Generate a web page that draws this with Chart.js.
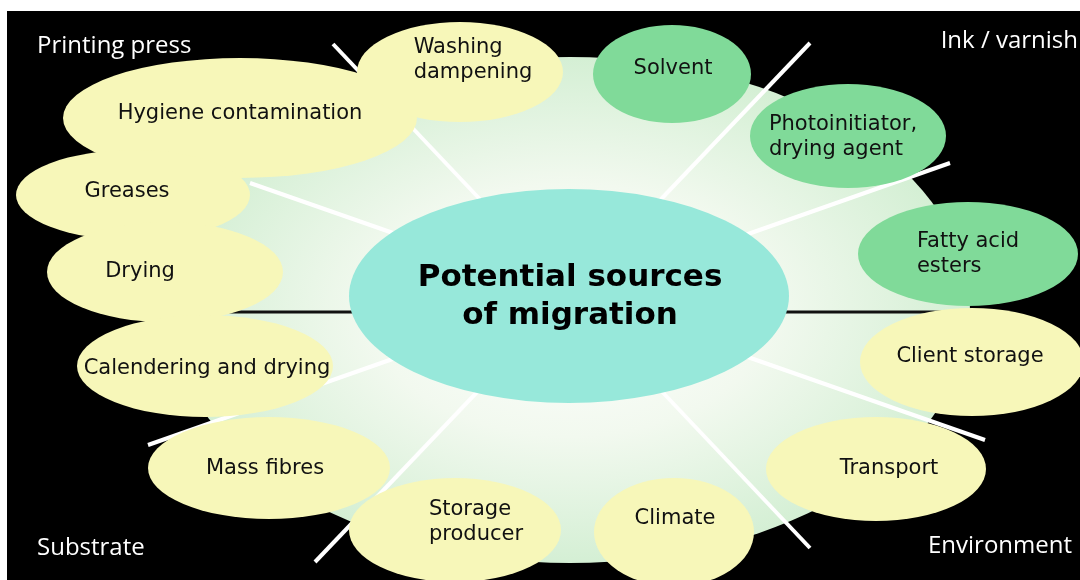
<!DOCTYPE html>
<html>
<head>
<meta charset="utf-8">
<script src="https://cdn.jsdelivr.net/npm/chart.js@4"></script>
<style>
  html, body { margin: 0; padding: 0; background: #fff; }
  #wrap { width: 1080px; height: 580px; }
</style>
</head>
<body>
<div id="wrap"><canvas id="c" width="1080" height="580"></canvas></div>
<script>
// nodes round the hub
const nodeLabels = [
  ['Hygiene contamination'], ['Washing', 'dampening'], ['Solvent'],
  ['Photoinitiator,', 'drying agent'], ['Greases'], ['Drying'],
  ['Fatty acid', 'esters'], ['Calendering and drying'], ['Client storage'],
  ['Mass fibres'], ['Transport'], ['Storage', 'producer'], ['Climate']
];
const nodeGroup = ['press', 'press', 'ink', 'ink', 'press', 'press', 'ink',
                   'substrate', 'env', 'substrate', 'env', 'substrate', 'env'];
const nodeX  = [240, 460, 672, 848, 133, 165, 968, 205, 972, 269, 876, 455, 674];
const nodeY  = [118, 72, 74, 136, 195, 272, 254, 366, 362, 468, 469, 530, 532];
const nodeRx = [177, 103, 79, 98, 117, 118, 110, 128, 112, 121, 110, 106, 80];
const nodeRy = [60, 50, 49, 52, 45, 50, 52, 51, 54, 51, 52, 52, 54];
const textX  = [240, 473, 673, 843, 127, 140, 968, 207, 970, 265, 889, 476, 675];
const textY  = [114, 60, 69, 137, 192, 272, 254, 369, 357, 469, 469, 522, 519];

const hubTitle = ['Potential sources', 'of migration'];
const cornerLabels = ['Printing press', 'Ink / varnish', 'Substrate', 'Environment'];

const colors = {
  press: '#f7f7b9', substrate: '#f7f7b9', env: '#f7f7b9', ink: '#80da99'
};

const diagramPlugin = {
  id: 'diagram',
  beforeDatasetsDraw(chart) {
    const { ctx, scales: { x, y } } = chart;
    const px = v => x.getPixelForValue(v);
    const py = v => y.getPixelForValue(v);
    ctx.save();

    // black panel
    ctx.fillStyle = '#000';
    ctx.fillRect(px(7), py(11), px(1080) - px(7), py(580) - py(11));

    // soft halo behind everything
    const cx = px(570), cy = py(310), rx = 400, ry = 253;
    ctx.save();
    ctx.translate(cx, cy);
    ctx.scale(rx / ry, 1);
    const g = ctx.createRadialGradient(0, 0, 0, 0, 0, ry);
    g.addColorStop(0, '#ffffff');
    g.addColorStop(0.5, '#f2f9ef');
    g.addColorStop(1, '#d4efd4');
    ctx.fillStyle = g;
    ctx.beginPath();
    ctx.arc(0, 0, ry, 0, Math.PI * 2);
    ctx.fill();
    ctx.restore();

    // black horizontal divider
    ctx.strokeStyle = '#111';
    ctx.lineWidth = 3;
    ctx.beginPath();
    ctx.moveTo(px(210), py(312));
    ctx.lineTo(px(962), py(312));
    ctx.stroke();

    // white spokes
    ctx.strokeStyle = '#fff';
    ctx.lineWidth = 4;
    [[333, 44, 810, 548], [810, 43, 315, 562], [950, 163, 148, 445], [250, 183, 985, 440]]
      .forEach(([x1, y1, x2, y2]) => {
        ctx.beginPath();
        ctx.moveTo(px(x1), py(y1));
        ctx.lineTo(px(x2), py(y2));
        ctx.stroke();
      });

    // nodes
    nodeLabels.forEach((lines, i) => {
      ctx.fillStyle = colors[nodeGroup[i]];
      ctx.beginPath();
      ctx.ellipse(px(nodeX[i]), py(nodeY[i]), nodeRx[i], nodeRy[i], 0, 0, Math.PI * 2);
      ctx.fill();
    });

    ctx.font = '21px "DejaVu Sans"';
    ctx.fillStyle = '#111';
    ctx.textBaseline = 'middle';
    nodeLabels.forEach((lines, i) => {
      const w = Math.max(...lines.map(l => ctx.measureText(l).width));
      const left = px(textX[i]) - w / 2;
      const top = py(textY[i]) - (lines.length - 1) * 12.5;
      ctx.textAlign = lines.length > 1 ? 'left' : 'center';
      lines.forEach((l, k) => {
        ctx.fillText(l, lines.length > 1 ? left : px(textX[i]), top + k * 25);
      });
    });

    // hub
    ctx.fillStyle = '#97e8da';
    ctx.beginPath();
    ctx.ellipse(px(569), py(296), 220, 107, 0, 0, Math.PI * 2);
    ctx.fill();
    ctx.fillStyle = '#000';
    ctx.font = 'bold 31px "DejaVu Sans"';
    ctx.textAlign = 'center';
    ctx.fillText(hubTitle[0], px(570), py(278));
    ctx.fillText(hubTitle[1], px(570), py(316));

    // corner labels
    ctx.fillStyle = '#fff';
    ctx.font = '24px "Open Sans"';
    ctx.textAlign = 'left';
    ctx.fillText(cornerLabels[0], px(37), py(46));
    ctx.fillText(cornerLabels[2], px(37), py(548));
    ctx.textAlign = 'right';
    ctx.fillText(cornerLabels[1], px(1078), py(41));
    ctx.fillText(cornerLabels[3], px(1072), py(546));
    ctx.restore();
  }
};

new Chart(document.getElementById('c'), {
  type: 'scatter',
  data: {
    datasets: [{
      data: nodeX.map((v, i) => ({ x: v, y: nodeY[i] })),
      pointRadius: 0
    }]
  },
  options: {
    responsive: false,
    animation: false,
    layout: { padding: 0 },
    plugins: { legend: { display: false }, tooltip: { enabled: false } },
    scales: {
      x: { display: false, min: 0, max: 1080 },
      y: { display: false, min: 0, max: 580, reverse: true }
    }
  },
  plugins: [diagramPlugin]
});
</script>
</body>
</html>
